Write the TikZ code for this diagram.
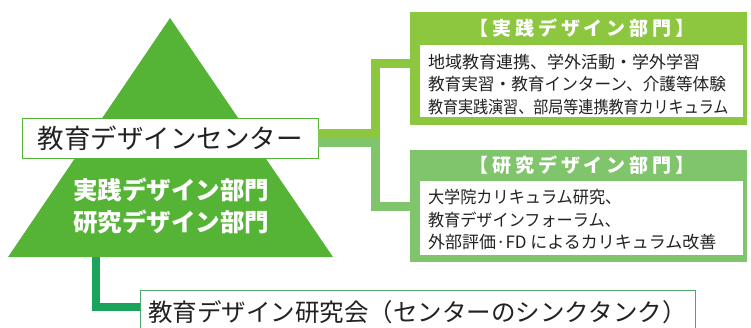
\documentclass[tikz,border=0pt]{standalone}
\usepackage{fontspec}
\usepackage{graphicx}
\newfontfamily\jp{Noto Sans CJK JP}
\newfontfamily\jpsp[LetterSpace=20]{Noto Sans CJK JP}
\newcommand\sqz[2]{\scalebox{#1}[1]{#2}}
\definecolor{trigreen}{HTML}{55B435}
\definecolor{ygreen}{HTML}{8DC63F}
\definecolor{lgreen}{HTML}{80C46C}
\definecolor{dgreen}{HTML}{1BA35B}
\definecolor{boxline}{HTML}{4FA86A}
\definecolor{txt}{HTML}{222222}
\tikzset{
  every node/.style={inner sep=0pt, outer sep=0pt, text=txt},
  whitebox/.style={draw=#1, line width=0.9pt, fill=white},
  outerbox/.style={fill=#1},
  inner/.style={fill=white},
  conn/.style={line width=9pt, draw=#1},
  titletext/.style={text=white, font=\jpsp\bfseries\fontsize{19}{22}\selectfont},
  bodytext/.style={align=left, font=\jp\fontsize{17}{22.5}\selectfont},
}
\begin{document}
\begin{tikzpicture}[x=1pt,y=-1pt]
\useasboundingbox (0,0) rectangle (751,327);
\clip (0,0) rectangle (751,327);
% triangle
\coordinate (tA) at (170,18);
\coordinate (tL) at (8,257);
\coordinate (tR) at (333,257);
\coordinate (tb) at (96,257);
\fill[trigreen] (tA) -- (tL) -- (tR) -- cycle;
\node[text=white, font=\jp\bfseries\fontsize{24.5}{28}\selectfont] (d1) at (171,190) {実践デザイン部門};
\node[text=white, font=\jp\bfseries\fontsize{24.5}{28}\selectfont] (d2) at (171,222) {研究デザイン部門};
% center box
\node[whitebox=trigreen, minimum width=296pt, minimum height=40pt, font=\jp\fontsize{26.5}{30}\selectfont] (ctr) at (170,138) {教育デザインセンター};
% practice box
\node[outerbox=ygreen, minimum width=337pt, minimum height=113pt] (prac) at (578.5,68.5) {};
\node[titletext] (pt) at (582,28) {【実践デザイン部門】};
\node[inner, minimum width=323pt, minimum height=72pt] (pin) at (581.5,81) {};
\node[bodytext, anchor=west] (pbody) at (428,84.5) {地域教育連携、学外活動・学外学習\\\sqz{0.98}{教育実習・教育インターン、介護等体験}\\\sqz{0.885}{教育実践演習、部局等連携教育カリキュラム}};
% research box
\node[outerbox=lgreen, minimum width=337pt, minimum height=112pt] (res) at (578.5,206) {};
\node[titletext] (rt) at (582,165) {【研究デザイン部門】};
\node[inner, minimum width=323pt, minimum height=74pt] (rin) at (581.5,218) {};
\node[bodytext, anchor=west] (rbody) at (428,220) {\sqz{0.95}{大学院カリキュラム研究、}\\\sqz{0.95}{教育デザインフォーラム、}\\外部評価·FD によるカリキュラム改善};
% connectors
\draw[conn=lgreen] ([yshift=-4.5pt]ctr.east) -- ++(57,0) |- (res.west);
\draw[conn=ygreen] ([yshift=4.5pt]ctr.east) -- ++(57,0) |- ([yshift=5.5pt]prac.west);
% think tank
\node[whitebox=boxline, minimum width=555pt, minimum height=44pt, font=\jp\fontsize{24.5}{29}\selectfont] (think) at (417.5,312) {教育デザイン研究会（センターのシンクタンク）};
\draw[conn=dgreen, line width=8pt] (tb) |- ([yshift=5pt]think.west);
\end{tikzpicture}
\end{document}
